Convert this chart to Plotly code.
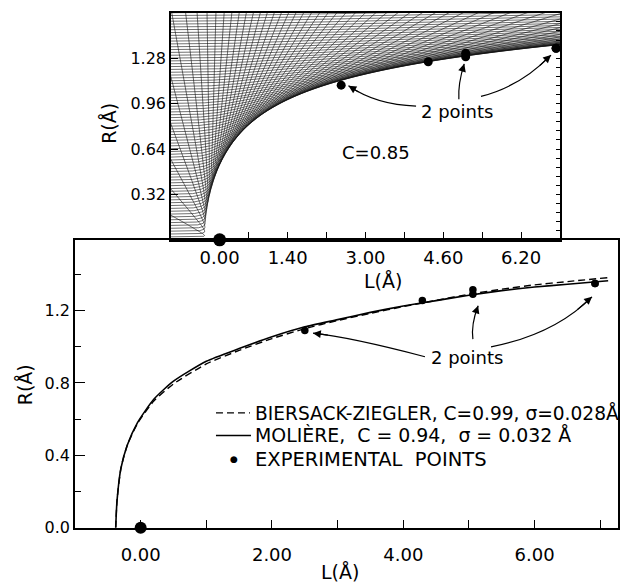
import warnings
import numpy as np
import plotly.graph_objects as go

W, H = 621, 585
FONT = "DejaVu Sans"
NB = "\u00a0"

# ---------------------------------------------------------------- data
# measured shadow-cone edge (L, R in angstrom)
EXP_L = [2.50, 4.29, 5.06, 5.06, 6.92, 6.92]
EXP_R = [1.09, 1.255, 1.29, 1.315, 1.35, 1.35]
ATOM_L = [0.0]
ATOM_R = [0.0]

# calculated cone edges including thermal vibration
MOL_L = [-0.38, -0.36, -0.30, -0.20, -0.05, 0.20, 0.50, 1.00, 1.50, 2.00,
         2.50, 3.00, 3.50, 4.00, 4.50, 5.00, 5.50, 6.00, 6.50, 7.12]
MOL_R = [0.00, 0.15, 0.33, 0.46, 0.58, 0.71, 0.81, 0.92, 0.99, 1.055,
         1.11, 1.15, 1.19, 1.225, 1.255, 1.285, 1.31, 1.33, 1.345, 1.365]
BZ_L = MOL_L
BZ_R = [0.00, 0.15, 0.33, 0.46, 0.575, 0.70, 0.795, 0.905, 0.98, 1.045,
        1.10, 1.145, 1.185, 1.222, 1.256, 1.29, 1.318, 1.342, 1.36, 1.382]

# edge of the C = 0.85 trajectory fan and its apex
EDGE_L = [0.00, 0.24, 0.51, 0.79, 2.52, 4.27, 5.04, 6.92]
EDGE_R = [0.535, 0.675, 0.77, 0.838, 1.10, 1.26, 1.30, 1.355]
APEX_L = -0.33

# tick marks and labels
TOP_X_TICKS = [0.6, 1.4, 2.2, 3.0, 3.8, 4.6, 5.4, 6.2]
TOP_X_LABEL_AT = [0.0, 1.4, 3.0, 4.6, 6.2]
TOP_X_LABELS = ["0.00", "1.40", "3.00", "4.60", "6.20"]
TOP_Y_TICKS = [0.32, 0.64, 0.96, 1.28]
TOP_Y_LABELS = ["0.32", "0.64", "0.96", "1.28"]
TOP_Y_FINE = [round(0.064 * i, 3) for i in range(1, 25)]
LOW_X_TICKS = [0, 2, 4, 6]
LOW_X_LABELS = ["0.00", "2.00", "4.00", "6.00"]
LOW_X_MINOR = [1, 3, 5, 7]
LOW_Y_TICKS = [0.0, 0.4, 0.8, 1.2]
LOW_Y_LABELS = ["0.0", "0.4", "0.8", "1.2"]
LOW_Y_MINOR = [0.2, 0.6, 1.0, 1.4]

# ------------------------------------------------- Moliere trajectories
PHI_A = (0.35, 0.55, 0.10)
PHI_B = (0.3, 1.2, 6.0)


def phi(s):
    return sum(c * np.exp(-d * s) for c, d in zip(PHI_A, PHI_B))


def accel(x, y, k, a):
    """Force of the screened Coulomb potential V = (E k / r) phi(r / a), E = 1/2."""
    r = np.sqrt(x * x + y * y)
    s = r / a
    ex = [np.exp(-d * s) for d in PHI_B]
    ph = sum(c * e for c, e in zip(PHI_A, ex))
    dph = -sum(c * d * e for c, d, e in zip(PHI_A, PHI_B, ex)) / a
    g = -0.5 * k * (dph / r - ph / (r * r)) / r
    return g * x, g * y


def fly(b, k, a, probes=None, every=0, x0=-3.0, t_end=10.6, dt=0.004):
    """Velocity-Verlet flight of ions entering from the left at height b."""
    shape = np.broadcast(b, k).shape
    x = np.full(shape, x0)
    y = np.broadcast_to(b, shape).astype(float).copy()
    vx = np.ones(shape)
    vy = np.zeros(shape)
    ax, ay = accel(x, y, k, a)
    hits = None
    if probes is not None:
        P = np.asarray(probes, dtype=float)
        hits = np.full(shape + P.shape, np.nan)
    path = []
    with np.errstate(all="ignore"):
        for i in range(int(round(t_end / dt))):
            vx += 0.5 * dt * ax
            vy += 0.5 * dt * ay
            xn = x + dt * vx
            yn = y + dt * vy
            if hits is not None:
                c = (x[..., None] < P) & (xn[..., None] >= P)
                if c.any():
                    f = (P - x[..., None]) / (xn - x)[..., None]
                    hits = np.where(c, y[..., None] + f * (yn - y)[..., None], hits)
            x, y = xn, yn
            ax, ay = accel(x, y, k, a)
            vx += 0.5 * dt * ax
            vy += 0.5 * dt * ay
            if every and i % every == 0:
                path.append((x.copy(), y.copy()))
    return hits, path


def cone_misfit(rmin, a, b):
    """Squared distance between the computed cone edge and the traced one."""
    k = rmin / phi(rmin / a)
    hits, _ = fly(b[None, :], k[:, None], a[:, None], probes=EDGE_L)
    with warnings.catch_warnings():
        warnings.simplefilter("ignore")
        edge = np.nanmin(hits, axis=1)
    miss = np.isnan(edge).sum(axis=1)
    err = np.nansum((edge - np.asarray(EDGE_R)) ** 2, axis=1)
    return err + miss + (rmin + APEX_L) ** 2


# coarse then fine search for closest approach and screening length
fit_b = np.linspace(0.01, 1.6, 64)
rr, aa = np.meshgrid([0.27, 0.30, 0.33, 0.36, 0.39], np.geomspace(0.04, 0.6, 16))
rr, aa = rr.ravel(), aa.ravel()
best = np.argmin(cone_misfit(rr, aa, fit_b))
r0, a0 = rr[best], aa[best]
rr, aa = np.meshgrid(r0 + np.linspace(-0.02, 0.02, 5), a0 * np.linspace(0.86, 1.14, 7))
rr, aa = rr.ravel(), aa.ravel()
best = np.argmin(cone_misfit(rr, aa, fit_b))
R_MIN, SCREEN = rr[best], aa[best]
K = R_MIN / phi(R_MIN / SCREEN)

impact = np.arange(1, 81) * 0.02
_, path = fly(impact[None, :], np.array([[K]]), np.array([[SCREEN]]), every=3)
PX = np.array([p[0][0] for p in path])
PY = np.array([p[1][0] for p in path])

traj_x, traj_y = [], []
for j in range(PX.shape[1]):
    gap = True
    for xv, yv in zip(PX[:, j], PY[:, j]):
        if -1.2 <= xv <= 7.2 and -0.1 <= yv <= 1.8:
            traj_x.append(round(float(xv), 4))
            traj_y.append(round(float(yv), 4))
            gap = False
        elif not gap:
            traj_x.append(None)
            traj_y.append(None)
            gap = True
    if not gap:
        traj_x.append(None)
        traj_y.append(None)

# ---------------------------------------------------------------- figure
fig = go.Figure()

fig.add_trace(go.Scatter(x=traj_x, y=traj_y, xaxis="x2", yaxis="y2", mode="lines",
                         line=dict(color="#111111", width=0.6), hoverinfo="skip"))
fig.add_trace(go.Scatter(x=EXP_L, y=EXP_R, xaxis="x2", yaxis="y2", mode="markers",
                         marker=dict(color="black", size=9)))
fig.add_trace(go.Scatter(x=ATOM_L, y=ATOM_R, xaxis="x2", yaxis="y2", mode="markers",
                         marker=dict(color="black", size=13), cliponaxis=False))
fig.add_trace(go.Scatter(x=[None], y=[None], xaxis="x2", yaxis="y3", mode="markers"))

fig.add_trace(go.Scatter(x=BZ_L, y=BZ_R, mode="lines",
                         line=dict(color="black", width=1.4, dash="7px,4px",
                                   shape="spline", smoothing=0.6)))
fig.add_trace(go.Scatter(x=MOL_L, y=MOL_R, mode="lines",
                         line=dict(color="black", width=1.6, shape="spline", smoothing=0.6)))
fig.add_trace(go.Scatter(x=EXP_L, y=EXP_R, mode="markers", marker=dict(color="black", size=7.5)))
fig.add_trace(go.Scatter(x=ATOM_L, y=ATOM_R, mode="markers",
                         marker=dict(color="black", size=12), cliponaxis=False))


def dom_x(left, right):
    return [left / W, right / W]


def dom_y(top, bottom):
    return [1 - bottom / H, 1 - top / H]


base = dict(showline=True, linecolor="black", linewidth=1.5, mirror=True,
            showgrid=False, zeroline=False, ticks="inside", tickcolor="black",
            tickwidth=1.3, tickmode="array")

fig.update_layout(
    width=W, height=H, margin=dict(l=0, r=0, t=0, b=0),
    paper_bgcolor="white", plot_bgcolor="white", showlegend=False,
    font=dict(family=FONT, color="black"),
    xaxis=dict(base, domain=dom_x(75, 618), range=[-1.0, 7.27], anchor="y",
               tickvals=LOW_X_TICKS, ticktext=LOW_X_LABELS, ticklen=8,
               tickfont=dict(family=FONT, size=18), ticklabelstandoff=10,
               minor=dict(tickvals=LOW_X_MINOR, ticks="inside", ticklen=8,
                          tickcolor="black", tickwidth=1.3)),
    yaxis=dict(base, domain=dom_y(244, 537), range=[0, (537 - 244) / 184.2], anchor="x",
               tickvals=LOW_Y_TICKS, ticktext=LOW_Y_LABELS, ticklen=10,
               tickfont=dict(family=FONT, size=16),
               minor=dict(tickvals=LOW_Y_MINOR, ticks="inside", ticklen=6,
                          tickcolor="black", tickwidth=1.3)),
    xaxis2=dict(base, domain=dom_x(171, 560), range=[-1.0, 7.0], anchor="y2",
                tickvals=TOP_X_LABEL_AT, ticktext=TOP_X_LABELS, ticks="",
                tickfont=dict(family=FONT, size=18), ticklabelstandoff=1,
                minor=dict(tickvals=TOP_X_TICKS, ticks="inside", ticklen=8,
                           tickcolor="black", tickwidth=1.3)),
    yaxis2=dict(base, domain=dom_y(13, 244), range=[0, 1.6], anchor="x2",
                tickvals=TOP_Y_TICKS, ticktext=TOP_Y_LABELS, ticklen=7,
                tickfont=dict(family=FONT, size=16)),
    yaxis3=dict(overlaying="y2", anchor="x2", side="right", range=[0, 1.6],
                tickmode="array", tickvals=TOP_Y_FINE, ticks="inside", ticklen=4,
                tickcolor="black", tickwidth=1, showticklabels=False,
                showline=False, showgrid=False, zeroline=False),
)

anns = []


def text(x, y, s, xref, yref, size=18, xanchor="center", **kw):
    anns.append(dict(x=x, y=y, xref=xref, yref=yref, text=s, showarrow=False,
                     xanchor=xanchor, yanchor="middle",
                     font=dict(family=FONT, size=size, color="black"), **kw))


# axis titles
text(109 / W, 1 - 126 / H, "R(Å)", "paper", "paper", size=19, textangle=-90)
text(383 / W, 1 - 286 / H, "L(Å)", "paper", "paper", size=19)
text(25 / W, 1 - 392 / H, "R(Å)", "paper", "paper", size=19, textangle=-90)
text(340 / W, 1 - 582 / H, "L(Å)", "paper", "paper", size=19)

# panel notes
text(3.22, 0.616, "C=0.85", "x2", "y2")
text(4.88, 0.907, "2 points", "x2", "y2")
text(4.97, 0.939, "2 points", "x", "y")

# key
text(1.71, 0.635, "BIERSACK-ZIEGLER, C=0.99, σ=0.028Å", "x", "y", size=18.6, xanchor="left")
text(1.71, 0.510, f"MOLIÈRE,{NB}{NB}C{NB}={NB}0.94,{NB}{NB}σ{NB}={NB}0.032{NB}Å", "x", "y",
     size=18.9, xanchor="left")
text(1.71, 0.380, f"EXPERIMENTAL{NB}{NB}POINTS", "x", "y", size=19.5, xanchor="left")
text(1.42, 0.380, "●", "x", "y", size=9)

shapes = [
    dict(type="line", xref="x", yref="y", x0=1.147, x1=1.665, y0=0.635, y1=0.635,
         line=dict(color="black", width=1.4, dash="7px,4px")),
    dict(type="line", xref="x", yref="y", x0=1.147, x1=1.68, y0=0.510, y1=0.510,
         line=dict(color="black", width=1.6)),
]

# curved pointers: (start, control, tip)
POINTERS = [
    ("x2", "y2", (4.04, 0.942), (3.22, 0.95), (2.65, 1.085)),
    ("x2", "y2", (4.92, 0.99), (4.90, 1.10), (5.03, 1.24)),
    ("x2", "y2", (5.375, 1.011), (6.18, 1.08), (6.815, 1.302)),
    ("x", "y", (4.33, 0.945), (3.19, 1.053), (2.625, 1.075)),
    ("x", "y", (5.06, 1.042), (5.03, 1.124), (5.14, 1.227)),
    ("x", "y", (5.336, 0.999), (6.31, 1.07), (6.874, 1.276)),
]
for xr, yr, s, c, e in POINTERS:
    shapes.append(dict(type="path", xref=xr, yref=yr,
                       path=f"M {s[0]},{s[1]} Q {c[0]},{c[1]} {e[0]},{e[1]}",
                       line=dict(color="black", width=1.2)))
    t = 0.8
    tx = (1 - t) ** 2 * s[0] + 2 * t * (1 - t) * c[0] + t * t * e[0]
    ty = (1 - t) ** 2 * s[1] + 2 * t * (1 - t) * c[1] + t * t * e[1]
    anns.append(dict(x=e[0], y=e[1], xref=xr, yref=yr, ax=tx, ay=ty, axref=xr, ayref=yr,
                     text="", showarrow=True, arrowhead=2, arrowsize=1.3,
                     arrowwidth=1.2, arrowcolor="black", standoff=0))

fig.update_layout(annotations=anns, shapes=shapes)
fig.write_html("out.html")
